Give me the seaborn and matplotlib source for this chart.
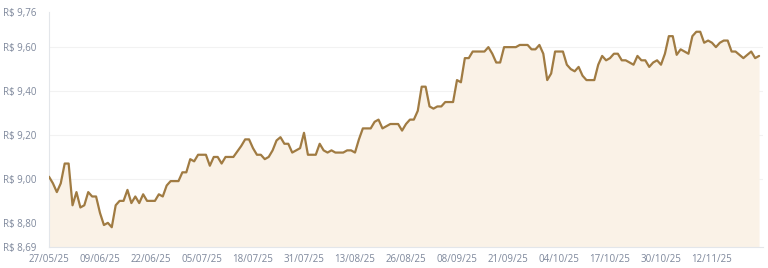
import matplotlib
matplotlib.use("Agg")
import matplotlib.pyplot as plt
import matplotlib.dates as mdates
import seaborn as sns
import pandas as pd
import numpy as np

start_date = "2025-05-27"
prices = [
    9.01, 8.98, 8.94, 8.98, 9.07, 9.07, 8.88, 8.94, 8.87, 8.88,
    8.94, 8.92, 8.92, 8.845, 8.79, 8.80, 8.78, 8.88, 8.90, 8.90,
    8.95, 8.89, 8.92, 8.89, 8.93, 8.90, 8.90, 8.90, 8.93, 8.92,
    8.97, 8.99, 8.99, 8.99, 9.03, 9.03, 9.09, 9.08, 9.11, 9.11,
    9.11, 9.06, 9.10, 9.10, 9.07, 9.10, 9.10, 9.10, 9.125, 9.15,
    9.18, 9.18, 9.14, 9.11, 9.11, 9.09, 9.10, 9.13, 9.175, 9.19,
    9.16, 9.16, 9.12, 9.13, 9.14, 9.21, 9.11, 9.11, 9.11, 9.16,
    9.13, 9.12, 9.13, 9.12, 9.12, 9.12, 9.13, 9.13, 9.12, 9.18,
    9.23, 9.23, 9.23, 9.26, 9.27, 9.23, 9.24, 9.25, 9.25, 9.25,
    9.22, 9.25, 9.27, 9.27, 9.31, 9.42, 9.42, 9.33, 9.32, 9.33,
    9.33, 9.35, 9.35, 9.35, 9.45, 9.44, 9.55, 9.55, 9.58, 9.58,
    9.58, 9.58, 9.60, 9.57, 9.53, 9.53, 9.60, 9.60, 9.60, 9.60,
    9.61, 9.61, 9.61, 9.59, 9.59, 9.61, 9.57, 9.45, 9.48, 9.58,
    9.58, 9.58, 9.52, 9.50, 9.49, 9.51, 9.47, 9.45, 9.45, 9.45,
    9.52, 9.56, 9.54, 9.55, 9.57, 9.57, 9.54, 9.54, 9.53, 9.52,
    9.56, 9.54, 9.54, 9.51, 9.53, 9.54, 9.52, 9.57, 9.65, 9.65,
    9.565, 9.59, 9.58, 9.57, 9.65, 9.67, 9.67, 9.62, 9.63, 9.62,
    9.60, 9.62, 9.63, 9.63, 9.58, 9.58, 9.565, 9.55, 9.565, 9.58,
    9.55, 9.56,
]
y_ticks = [8.69, 8.80, 9.00, 9.20, 9.40, 9.60, 9.76]
x_tick_labels = ["27/05/25", "09/06/25", "22/06/25", "05/07/25", "18/07/25",
                 "31/07/25", "13/08/25", "26/08/25", "08/09/25", "21/09/25",
                 "04/10/25", "17/10/25", "30/10/25", "12/11/25"]

dates = pd.date_range(start_date, periods=len(prices), freq="D")
df = pd.DataFrame({"date": dates, "price": prices})

sns.set_theme(style="white")
plt.rcParams["font.family"] = ["Open Sans", "DejaVu Sans"]

line_color = "#a07b42"
fill_color = "#faf2e7"
text_color = "#7d879b"
axis_color = "#e3e6ea"
grid_color = "#f2f2f2"

fig = plt.figure(figsize=(7.68, 2.68), dpi=100)
ax = fig.add_axes([49 / 768, 1 - 247 / 268, (763 - 49) / 768, (247 - 12) / 268])

ymin, ymax = y_ticks[0], y_ticks[-1]
ax.fill_between(df["date"], df["price"], ymin, color=fill_color, lw=0, zorder=1)
sns.lineplot(data=df, x="date", y="price", ax=ax, color=line_color, lw=1.6, zorder=3)

ax.set_ylim(ymin, ymax)
ax.set_xlim(dates[0], dates[0] + pd.Timedelta(days=182))

ax.set_yticks(y_ticks)
ax.set_yticklabels([f"R$ {v:.2f}".replace(".", ",") for v in y_ticks])
tick_dates = pd.to_datetime(x_tick_labels, format="%d/%m/%y")
ax.set_xticks(tick_dates)
ax.set_xticklabels(x_tick_labels)

ax.set_xlabel("")
ax.set_ylabel("")
for g in y_ticks[2:-1]:
    ax.axhline(g, color=grid_color, lw=0.8, zorder=0)

for s in ["top", "right"]:
    ax.spines[s].set_visible(False)
for s in ["left", "bottom"]:
    ax.spines[s].set_color(axis_color)
    ax.spines[s].set_linewidth(0.8)

ax.tick_params(axis="both", colors=axis_color, labelcolor=text_color,
               labelsize=7, length=3, width=0.8)
ax.tick_params(axis="y", pad=6)
ax.tick_params(axis="x", pad=2)

fig.savefig("out.png", dpi=100)
